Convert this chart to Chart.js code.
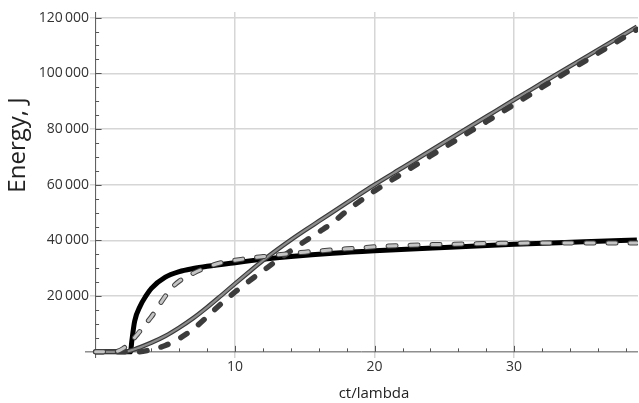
<!DOCTYPE html>
<html>
<head>
<meta charset="utf-8">
<script src="https://cdn.jsdelivr.net/npm/chart.js@4"></script>
<style>
  html, body { margin: 0; padding: 0; background: #fff; }
  #wrap { width: 639px; height: 403px; }
</style>
</head>
<body>
<div id="wrap"><canvas id="energy-chart"></canvas></div>
<script>
// axis ticks
const xTicks = [10, 20, 30];
const yTicks = [20000, 40000, 60000, 80000, 100000, 120000];

// black solid curve
const blackX = [0, 2.5, 2.6, 2.8, 3.2, 3.6, 4, 5, 6, 7, 8, 10, 12, 14, 17, 20, 25, 30, 35, 38.8];
const blackY = [0, 0, 4000, 11000, 16500, 20000, 22800, 26800, 28800, 29900, 30700, 32000, 33200, 34200, 35400, 36300, 37500, 38600, 39500, 40200];

// light gray dashed curve
const lightX = [0, 1.5, 2, 2.5, 3, 3.5, 4, 4.5, 5, 5.5, 6, 7, 8, 9, 10, 12, 15, 18, 21, 25, 30, 35, 38.8];
const lightY = [0, 200, 1300, 3500, 6300, 9500, 12600, 16300, 20000, 23200, 25400, 28200, 30400, 32000, 32900, 34200, 35800, 37000, 38000, 38600, 39000, 39100, 39100];

// gray solid curve
const grayX = [0, 2, 3, 4, 5, 6, 7, 8, 9, 10, 11, 12, 13, 14, 15, 16, 18, 20, 22, 24, 26, 28, 30, 32, 34, 36, 38.8];
const grayY = [0, 0, 1300, 3300, 5700, 8700, 12100, 16000, 20200, 24500, 28700, 32800, 36600, 40200, 43600, 46900, 53500, 60000, 66100, 72200, 78300, 84400, 90500, 96500, 102500, 108400, 116700];

// dark dashed curve
const darkX = [0, 3, 4, 5, 6, 7, 8, 9, 10, 11, 12, 13, 14, 15, 16, 17, 18, 19, 20, 22, 24, 26, 28, 30, 32, 34, 36, 38.8];
const darkY = [0, 0, 800, 2300, 4800, 8200, 12600, 17300, 21500, 25400, 29100, 32800, 36300, 39700, 43000, 46400, 50600, 54300, 57800, 64100, 70300, 76500, 82600, 88800, 95000, 101100, 107200, 115700];

function toPoints(xs, ys) {
  return xs.map((x, i) => ({ x: x, y: ys[i] }));
}

function fmt(v) {
  const s = String(v);
  if (s.length <= 3) return s;
  return s.slice(0, s.length - 3) + '\u2009' + s.slice(s.length - 3);
}

const axesPlugin = {
  id: 'mmaAxes',
  beforeDatasetsDraw(chart) {
    const { ctx } = chart;
    const xs = chart.scales.x, ys = chart.scales.y;
    const x0 = xs.getPixelForValue(0), y0 = ys.getPixelForValue(0);
    ctx.save();
    ctx.strokeStyle = '#555';
    ctx.lineWidth = 1;
    ctx.beginPath();
    ctx.moveTo(85, y0); ctx.lineTo(chart.chartArea.right, y0);
    ctx.moveTo(x0, chart.chartArea.bottom); ctx.lineTo(x0, chart.chartArea.top);
    for (let v = 2; v <= 38; v += 2) {
      const px = Math.round(xs.getPixelForValue(v)) + 0.5;
      const len = v % 10 === 0 ? 6 : 3.5;
      ctx.moveTo(px, y0); ctx.lineTo(px, y0 - len);
    }
    for (let v = 5000; v <= 120000; v += 5000) {
      const py = Math.round(ys.getPixelForValue(v)) + 0.5;
      const len = v % 20000 === 0 ? 6 : 3.5;
      ctx.moveTo(x0, py); ctx.lineTo(x0 + len, py);
    }
    ctx.stroke();
    ctx.restore();
  },
  afterDraw(chart) {
    const { ctx } = chart;
    ctx.save();
    ctx.fillStyle = '#222';
    ctx.textAlign = 'center';
    ctx.textBaseline = 'middle';
    ctx.font = '15px "Open Sans"';
    ctx.fillText('ct/lambda', 374, 394);
    ctx.translate(18, 145);
    ctx.rotate(-Math.PI / 2);
    ctx.font = '24px "Open Sans"';
    ctx.fillText('Energy, J', 0, 0);
    ctx.restore();
  }
};

function line(xs, ys, color, width, dash, order) {
  return {
    data: toPoints(xs, ys),
    borderColor: color,
    borderWidth: width,
    borderDash: dash || [],
    borderCapStyle: dash ? 'round' : 'butt',
    borderJoinStyle: 'round',
    pointRadius: 0,
    cubicInterpolationMode: 'monotone',
    order: order
  };
}

const ctx = document.getElementById('energy-chart').getContext('2d');
new Chart(ctx, {
  type: 'line',
  data: {
    datasets: [
      line(lightX, lightY, '#c4c4c4', 3, [8, 14], 0),
      line(lightX, lightY, '#444', 5, [8, 14], 1),
      line(darkX, darkY, '#3c3c3c', 5.5, [7.5, 14.5], 2),
      line(grayX, grayY, '#8c8c8c', 2.2, null, 3),
      line(grayX, grayY, '#3a3a3a', 4.5, null, 4),
      line(blackX, blackY, '#000', 5, null, 5)
    ]
  },
  options: {
    responsive: true,
    maintainAspectRatio: false,
    animation: false,
    layout: { padding: { top: 12, right: 1, left: 0, bottom: 0 } },
    scales: {
      x: {
        type: 'linear',
        min: -0.4,
        max: 38.88,
        afterBuildTicks: s => { s.ticks = xTicks.map(v => ({ value: v })); },
        afterFit: s => { s.height = 45; },
        grid: { color: '#d6d6d6', lineWidth: 1.5, drawTicks: false },
        border: { display: false },
        ticks: { color: '#333', font: { family: 'Open Sans', size: 14 }, padding: 1, maxRotation: 0, callback: v => fmt(v) }
      },
      y: {
        type: 'linear',
        min: -2200,
        max: 122000,
        afterBuildTicks: s => { s.ticks = yTicks.map(v => ({ value: v })); },
        afterFit: s => { s.width = 90; },
        grid: { color: '#d6d6d6', lineWidth: 1.5, drawTicks: false },
        border: { display: false },
        ticks: { color: '#333', font: { family: 'Open Sans', size: 14 }, padding: 1, callback: v => fmt(v) }
      }
    },
    plugins: {
      legend: { display: false },
      tooltip: { enabled: false }
    }
  },
  plugins: [axesPlugin]
});
</script>
</body>
</html>
